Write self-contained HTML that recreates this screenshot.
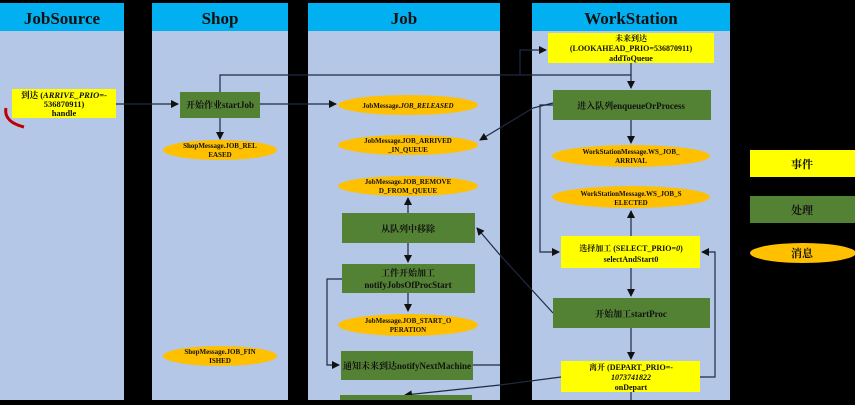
<!DOCTYPE html>
<html><head><meta charset="utf-8"><style>
body{margin:0;background:#000;width:855px;height:400px;overflow:hidden;font-family:"Liberation Serif","Noto Serif CJK SC",serif}
svg text{font-family:"Liberation Serif","Noto Serif CJK SC",serif;font-weight:bold;fill:#111}
</style></head><body>
<svg width="855" height="400" viewBox="0 0 855 400">
<defs><marker id="a" markerWidth="8" markerHeight="8" refX="7" refY="4" orient="auto" markerUnits="userSpaceOnUse"><path d="M0,0L8,4L0,8z" fill="#111"/></marker></defs>
<rect x="0" y="3" width="124" height="397" fill="#b4c7e7"/>
<rect x="152" y="3" width="136" height="397" fill="#b4c7e7"/>
<rect x="308" y="3" width="192" height="397" fill="#b4c7e7"/>
<rect x="532" y="3" width="198" height="397" fill="#b4c7e7"/>
<rect x="0" y="3" width="124" height="28" fill="#00b0f0"/>
<rect x="152" y="3" width="136" height="28" fill="#00b0f0"/>
<rect x="308" y="3" width="192" height="28" fill="#00b0f0"/>
<rect x="532" y="3" width="198" height="28" fill="#00b0f0"/>
<g font-size="17" text-anchor="middle" style="font-weight:bold">
<text x="62" y="24" fill="#1f2a44">JobSource</text>
<text x="220" y="24">Shop</text>
<text x="404" y="24">Job</text>
<text x="631" y="24">WorkStation</text>
</g>
<g stroke="#1f2a44" stroke-width="1.2" fill="none">
<path d="M116,104H178" marker-end="url(#a)"/>
<path d="M260,104H336" marker-end="url(#a)"/>
<path d="M220,104V75H631V88" marker-end="url(#a)"/>
<path d="M520,75V50H546" marker-end="url(#a)"/>
<path d="M220,118V139" marker-end="url(#a)"/>
<path d="M631,63V75"/>
<path d="M631,120V143" marker-end="url(#a)"/>
<path d="M553,103L533,108L480,140" marker-end="url(#a)"/>
<path d="M553,105H540V252H559" marker-end="url(#a)"/>
<path d="M631,236V211" marker-end="url(#a)"/>
<path d="M631,268V296" marker-end="url(#a)"/>
<path d="M553,313L500,255L477,228" marker-end="url(#a)"/>
<path d="M631,328V359" marker-end="url(#a)"/>
<path d="M700,377H715V252H702" marker-end="url(#a)"/>
<path d="M631,392V400"/>
<path d="M561,377L500,385L405,395" marker-end="url(#a)"/>
<path d="M408,213V198" marker-end="url(#a)"/>
<path d="M408,243V262" marker-end="url(#a)"/>
<path d="M408,293V311" marker-end="url(#a)"/>
<path d="M342,279H327V365H339" marker-end="url(#a)"/>
<path d="M473,365H500"/>
</g>
<path d="M24,127C12,124 4,118 6,108" stroke="#c00000" stroke-width="3" fill="none"/>
<rect x="12" y="89" width="104" height="29" fill="#ffff00"/>
<g font-size="8.5" text-anchor="middle">
<text x="64" y="98">到达 (<tspan font-style="italic">ARRIVE_PRIO=-</tspan></text>
<text x="64" y="107">536870911)</text>
<text x="64" y="116">handle</text>
</g>
<rect x="180" y="92" width="80" height="26" fill="#548235"/>
<text x="220" y="108" font-size="9" text-anchor="middle">开始作业startJob</text>
<ellipse cx="220" cy="150" rx="57" ry="10" fill="#ffc000"/>
<g font-size="7" text-anchor="middle"><text x="220" y="148">ShopMessage.JOB_REL</text><text x="220" y="157">EASED</text></g>
<ellipse cx="220" cy="356" rx="57" ry="10" fill="#ffc000"/>
<g font-size="7" text-anchor="middle"><text x="220" y="354">ShopMessage.JOB_FIN</text><text x="220" y="363">ISHED</text></g>
<g fill="#ffc000"><ellipse cx="408" cy="105" rx="70" ry="10"/><ellipse cx="408" cy="145" rx="70" ry="10"/><ellipse cx="408" cy="186" rx="70" ry="10"/><ellipse cx="408" cy="325" rx="70" ry="11"/></g>
<g font-size="7" text-anchor="middle">
<text x="408" y="108">JobMessage.<tspan font-style="italic">JOB_RELEASED</tspan></text>
<text x="408" y="143">JobMessage.JOB_ARRIVED</text><text x="408" y="152">_IN_QUEUE</text>
<text x="408" y="184">JobMessage.JOB_REMOVE</text><text x="408" y="193">D_FROM_QUEUE</text>
<text x="408" y="323">JobMessage.JOB_START_O</text><text x="408" y="332">PERATION</text>
</g>
<g fill="#548235"><rect x="342" y="213" width="133" height="30"/><rect x="342" y="264" width="133" height="29"/><rect x="341" y="351" width="132" height="29"/><rect x="340" y="395" width="132" height="10"/></g>
<g font-size="9" text-anchor="middle">
<text x="408" y="232">从队列中移除</text>
<text x="408" y="276">工件开始加工</text><text x="408" y="288">notifyJobsOfProcStart</text>
<text x="407" y="369">通知未来到达notifyNextMachine</text>
</g>
<g fill="#ffff00"><rect x="548" y="33" width="166" height="30"/><rect x="561" y="236" width="139" height="32"/><rect x="561" y="361" width="139" height="31"/></g>
<g fill="#548235"><rect x="553" y="90" width="158" height="30"/><rect x="553" y="298" width="157" height="30"/></g>
<g fill="#ffc000"><ellipse cx="631" cy="156" rx="79" ry="11"/><ellipse cx="631" cy="197" rx="79" ry="11"/></g>
<g font-size="8" text-anchor="middle">
<text x="631" y="41">未来到达</text><text x="631" y="51">(LOOKAHEAD_PRIO=536870911)</text><text x="631" y="61">addToQueue</text>
<text x="631" y="109" font-size="9">进入队列enqueueOrProcess</text>
<text x="631" y="154" font-size="7">WorkStationMessage.WS_JOB_</text><text x="631" y="163" font-size="7">ARRIVAL</text>
<text x="631" y="196" font-size="7">WorkStationMessage.WS_JOB_S</text><text x="631" y="205" font-size="7">ELECTED</text>
<text x="631" y="251">选择加工 (SELECT_PRIO=<tspan font-style="italic">0</tspan>)</text><text x="631" y="262">selectAndStart0</text>
<text x="631" y="317" font-size="9">开始加工startProc</text>
<text x="631" y="370">离开 (DEPART_PRIO=-</text><text x="631" y="380" font-style="italic">1073741822</text><text x="631" y="390">onDepart</text>
</g>
<rect x="750" y="150" width="105" height="27" fill="#ffff00"/>
<rect x="750" y="196" width="105" height="27" fill="#548235"/>
<ellipse cx="803" cy="253" rx="53" ry="10" fill="#ffc000"/>
<g font-size="11" text-anchor="middle"><text x="802" y="168">事件</text><text x="802" y="214">处理</text><text x="802" y="257">消息</text></g>
</svg>
</body></html>
